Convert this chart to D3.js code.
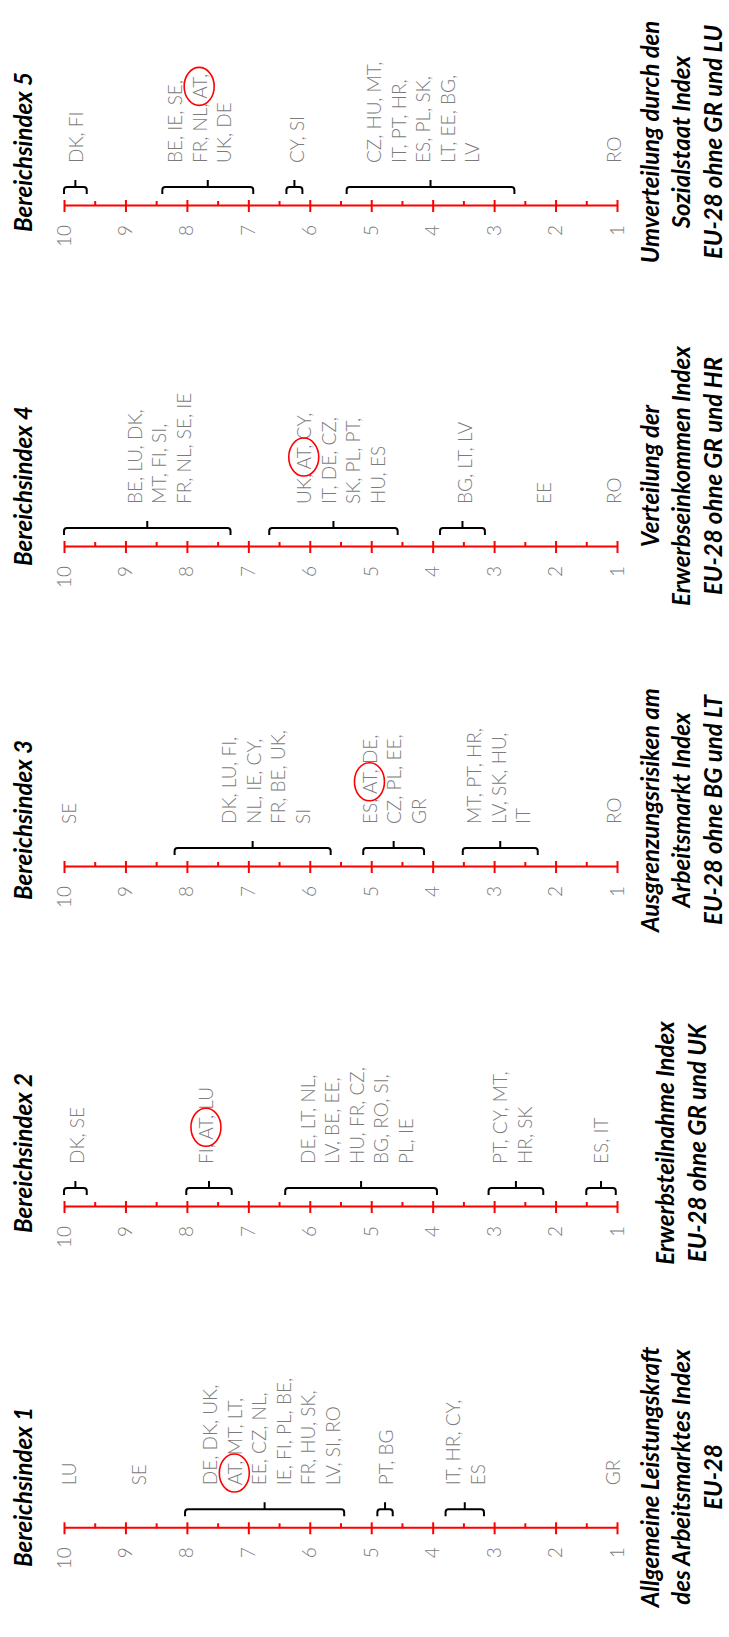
<!DOCTYPE html>
<html><head><meta charset="utf-8">
<script src="https://cdn.jsdelivr.net/npm/d3@7"></script>
<style>
html,body{margin:0;padding:0;background:#fff;}
svg{display:block;}
</style></head>
<body>
<script>
// ---------- DATA ----------
const panelTitles = ["Bereichsindex 1","Bereichsindex 2","Bereichsindex 3","Bereichsindex 4","Bereichsindex 5"];
const panelCaptions = [
  ["Allgemeine Leistungskraft","des Arbeitsmarktes Index","EU-28"],
  ["Erwerbsteilnahme Index","EU-28 ohne GR und UK"],
  ["Ausgrenzungsrisiken am","Arbeitsmarkt Index","EU-28 ohne BG und LT"],
  ["Verteilung der","Erwerbseinkommen Index","EU-28 ohne GR und HR"],
  ["Umverteilung durch den","Sozialstaat Index","EU-28 ohne GR und LU"]
];
const majorTicks = [10,9,8,7,6,5,4,3,2,1];
const minorTicks = [9.5,8.5,7.5,6.5,5.5,4.5,3.5,2.5,1.5];
const highlightCountry = "AT";

// brackets: [upper value, lower value]
const brackets1 = [[8.03,5.44],[4.90,4.65],[3.79,3.165]];
const brackets2 = [[10,9.63],[8.01,7.27],[6.40,3.93],[3.09,2.20],[1.50,1.02]];
const brackets3 = [[8.20,5.66],[5.13,4.14],[3.51,2.29]];
const brackets4 = [[10,7.29],[6.66,4.57],[3.88,3.15]];
const brackets5 = [[10,9.63],[8.40,6.92],[6.38,6.12],[5.40,2.67]];

// country labels: value where the label block is centred, lines of text
const labels1 = [
  {at:9.92, lines:["LU"]},
  {at:8.78, lines:["SE"]},
  {at:6.63, lines:["DE, DK, UK,","AT, MT, LT,","EE, CZ, NL,","IE, FI, PL, BE,","FR, HU, SK,","LV, SI, RO"]},
  {at:4.76, lines:["PT, BG"]},
  {at:3.47, lines:["IT, HR, CY,","ES"]},
  {at:1.08, lines:["GR"]}
];
const labels2 = [
  {at:9.79, lines:["DK, SE"]},
  {at:7.69, lines:["FI, AT, LU"]},
  {at:5.24, lines:["DE, LT, NL,","LV, BE, EE,","HU, FR, CZ,","BG, RO, SI,","PL, IE"]},
  {at:2.71, lines:["PT, CY, MT,","HR, SK"]},
  {at:1.27, lines:["ES, IT"]}
];
const labels3 = [
  {at:9.93, lines:["SE"]},
  {at:6.72, lines:["DK, LU, FI,","NL, IE, CY,","FR, BE, UK,","SI"]},
  {at:4.63, lines:["ES, AT, DE,","CZ, PL, EE,","GR"]},
  {at:2.93, lines:["MT, PT, HR,","LV, SK, HU,","IT"]},
  {at:1.06, lines:["RO"]}
];
const labels4 = [
  {at:8.46, lines:["BE, LU, DK,","MT, FI, SI,","FR, NL, SE, IE"]},
  {at:5.50, lines:["UK, AT, CY,","IT, DE, CZ,","SK, PL, PT,","HU, ES"]},
  {at:3.49, lines:["BG, LT, LV"]},
  {at:2.20, lines:["EE"]},
  {at:1.06, lines:["RO"]}
];
const labels5 = [
  {at:9.82, lines:["DK, FI"]},
  {at:7.80, lines:["BE, IE, SE,","FR, NL, AT,","UK, DE"]},
  {at:6.21, lines:["CY, SI"]},
  {at:4.16, lines:["CZ, HU, MT,","IT, PT, HR,","ES, PL, SK,","LT, EE, BG,","LV"]},
  {at:1.06, lines:["RO"]}
];
const allBrackets = [brackets1,brackets2,brackets3,brackets4,brackets5];
const allLabels = [labels1,labels2,labels3,labels4,labels5];

// ---------- LAYOUT (drawn in landscape, then rotated) ----------
const W = 729, H = 1637;           // page (portrait)
const slotStart = [0,334,667,1001,1335];
const axisPos = [108.7,430,770,1090,1431];
const gray = "#7b7b7b";
const labelFont = "Lato, 'Open Sans', sans-serif";

const svg = d3.select("body").append("svg").attr("width",W).attr("height",H);
const root = svg.append("g").attr("transform",`translate(0,${H}) rotate(-90)`);

const y = d3.scaleLinear().domain([10,1]).range([64,617]);

panelTitles.forEach((title,i)=>{
  const s = slotStart[i], ax = axisPos[i];
  const g = root.append("g");

  // title
  g.append("text").attr("x",s+70).attr("y",32)
    .attr("font-family",labelFont).attr("font-weight",700).attr("font-style","italic")
    .attr("font-size",24).attr("fill","#000").text(title);

  // main axis
  const axG = g.append("g").attr("transform",`translate(${ax},0)`)
    .call(d3.axisLeft(y).tickValues(majorTicks).tickSizeInner(6).tickSizeOuter(0).tickPadding(13).tickFormat(d3.format("d")));
  axG.select(".domain").attr("stroke","#ff0000").attr("stroke-width",2);
  axG.selectAll(".tick line").attr("stroke","#ff0000").attr("stroke-width",2).attr("x1",6).attr("x2",-6);
  axG.selectAll(".tick text").attr("fill",gray).attr("font-size",19)
    .attr("font-family",labelFont).attr("font-weight",300);

  const minG = g.append("g").attr("transform",`translate(${ax},0)`)
    .call(d3.axisRight(y).tickValues(minorTicks).tickSizeInner(5).tickSizeOuter(0).tickFormat(""));
  minG.select(".domain").remove();
  minG.selectAll(".tick line").attr("stroke","#ff0000").attr("stroke-width",2);

  // brackets
  const barX = ax+19, hookX = ax+12, nubX = ax+26;
  allBrackets[i].forEach(([a,b])=>{
    const y1 = y(a), y2 = y(b), ym = (y1+y2)/2;
    const r = Math.min(3,(y2-y1)/2);
    const p = d3.path();
    p.moveTo(hookX,y1); p.lineTo(barX-r,y1); p.quadraticCurveTo(barX,y1,barX,y1+r);
    p.lineTo(barX,y2-r); p.quadraticCurveTo(barX,y2,barX-r,y2); p.lineTo(hookX,y2);
    p.moveTo(barX,ym); p.lineTo(nubX,ym);
    g.append("path").attr("d",p.toString()).attr("fill","none")
      .attr("stroke","#000").attr("stroke-width",2).attr("stroke-linejoin","round");
  });

  // country labels
  const lx = ax+43, lh = 24.5;
  allLabels[i].forEach(grp=>{
    const n = grp.lines.length;
    grp.lines.forEach((line,k)=>{
      const cy = y(grp.at) + (k-(n-1)/2)*lh;
      const t = g.append("text").attr("x",lx).attr("y",cy)
        .attr("dominant-baseline","central")
        .attr("font-family",labelFont).attr("font-weight",300)
        .attr("font-size",19).attr("fill",gray).text(line);
      const idx = line.indexOf(highlightCountry+",");
      if(idx>=0){
        const node = t.node();
        const pre = idx>0 ? node.getSubStringLength(0,idx) : 0;
        const w = node.getSubStringLength(idx,highlightCountry.length);
        g.append("ellipse").attr("cx",lx+pre+w/2+2).attr("cy",cy)
          .attr("rx",19).attr("ry",15).attr("fill","none")
          .attr("stroke","#ff0000").attr("stroke-width",1.6);
      }
    });
  });

  // caption
  const cap = panelCaptions[i], n = cap.length;
  cap.forEach((line,k)=>{
    g.append("text").attr("x",s+160).attr("y",690+(k-(n-1)/2)*31.5)
      .attr("text-anchor","middle")
      .attr("font-family",labelFont).attr("font-weight",700).attr("font-style","italic")
      .attr("font-size",24).attr("fill","#000").text(line);
  });
});
</script>
</body></html>
